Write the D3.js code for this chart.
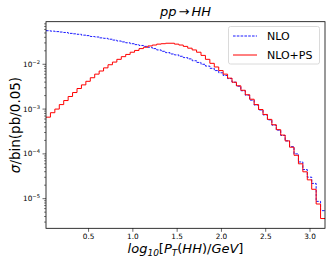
<!DOCTYPE html>
<html>
<head>
<meta charset="utf-8">
<script src="https://cdn.jsdelivr.net/npm/d3@7"></script>
<style>
  body { margin: 0; background: #fff; }
  svg { font-family: "DejaVu Sans", sans-serif; }
  .it { font-style: italic; }
</style>
</head>
<body>
<svg width="330" height="264"></svg>
<script>
// histogram bins: width 0.05 in log10(pT), first bin starts at 0.025
var binStart = 0.025,
  binWidth = 0.05;

// NLO (blue dashed), sigma per bin in pb
var nlo = [
  0.0562, 0.0550, 0.0537, 0.0525, 0.0513, 0.0490, 0.0479, 0.0468, 0.0447, 0.0437,
  0.0417, 0.0407, 0.0389, 0.0380, 0.0363, 0.0347, 0.0331, 0.0316, 0.0302, 0.0288,
  0.0275, 0.0263, 0.0251, 0.0240, 0.0224, 0.0209, 0.0195, 0.0182, 0.0170, 0.0162,
  0.0151, 0.0141, 0.0132, 0.0120, 0.0110, 0.0100, 9.12e-3, 8.13e-3, 7.24e-3, 6.46e-3,
  5.62e-3, 4.79e-3, 3.98e-3, 3.24e-3, 2.57e-3, 2.04e-3, 1.58e-3, 1.23e-3, 9.55e-4, 7.41e-4,
  5.75e-4, 4.37e-4, 3.39e-4, 2.57e-4, 1.95e-4, 1.45e-4, 1.0e-4, 6.6e-5, 4.47e-5, 3.02e-5,
  2.19e-5, 8.7e-6, 5.4e-6
];

// NLO+PS (red solid)
var nlops = [
  6.6e-4, 8.3e-4, 1.0e-3, 1.26e-3, 1.55e-3, 1.91e-3, 2.34e-3, 2.88e-3, 3.47e-3, 4.17e-3,
  5.01e-3, 6.03e-3, 7.08e-3, 8.32e-3, 9.77e-3, 0.0112, 0.0129, 0.0148, 0.0166, 0.0186,
  0.0204, 0.0224, 0.0240, 0.0257, 0.0269, 0.0282, 0.0288, 0.0295, 0.0295, 0.0282,
  0.0269, 0.0251, 0.0229, 0.0209, 0.0186, 0.0158, 0.0129, 0.0105, 8.71e-3, 7.24e-3,
  6.03e-3, 4.90e-3, 3.98e-3, 3.31e-3, 2.63e-3, 2.09e-3, 1.66e-3, 1.26e-3, 9.77e-4, 7.59e-4,
  5.89e-4, 4.47e-4, 3.47e-4, 2.63e-4, 1.95e-4, 1.41e-4, 9.3e-5, 6.0e-5, 3.98e-5, 2.63e-5,
  1.62e-5, 7.6e-6, 3.6e-6
];

var xTicks = [0.5, 1.0, 1.5, 2.0, 2.5, 3.0];
var yTicks = [1e-5, 1e-4, 1e-3, 1e-2];
var yExps = ["5", "4", "3", "2"];
var seriesNames = ["NLO", "NLO+PS"];

var svg = d3.select("svg"),
  pLeft = 46, pRight = 325, pTop = 21.7, pBottom = 228.3;

var x = d3.scaleLinear()
  .domain([binStart, binStart + nlo.length * binWidth])
  .range([pLeft, pRight]);

var y = d3.scaleLog()
  .domain([2.18e-6, 0.0893])
  .range([pBottom, pTop]);

svg.append("clipPath").attr("id", "clip")
  .append("rect")
  .attr("x", pLeft).attr("y", pTop)
  .attr("width", pRight - pLeft).attr("height", pBottom - pTop);

function stepPoints(vals) {
  var pts = vals.map(function(v, i) { return [binStart + i * binWidth, v]; });
  pts.push([binStart + vals.length * binWidth, vals[vals.length - 1]]);
  return pts;
}

var line = d3.line()
  .x(function(d) { return x(d[0]); })
  .y(function(d) { return y(d[1]); })
  .curve(d3.curveStepAfter);

var plot = svg.append("g").attr("clip-path", "url(#clip)");

plot.append("path")
  .attr("d", line(stepPoints(nlo)))
  .attr("fill", "none")
  .attr("stroke", "#0000ff")
  .attr("stroke-width", 0.9)
  .attr("stroke-dasharray", "2.6,1.2");

plot.append("path")
  .attr("d", line(stepPoints(nlops)))
  .attr("fill", "none")
  .attr("stroke", "#ff0000")
  .attr("stroke-width", 1);

// x axis
var xAxis = svg.append("g")
  .attr("transform", "translate(0," + pBottom + ")")
  .call(d3.axisBottom(x).tickValues(xTicks).tickFormat(d3.format(".1f")).tickSize(3.5).tickPadding(2));
xAxis.select(".domain").remove();
xAxis.selectAll("text").attr("font-size", 7.3).attr("font-family", "DejaVu Sans").attr("fill", "#000");
xAxis.selectAll("line").attr("stroke", "#000").attr("stroke-width", 0.6);

// y axis: major + minor log ticks
var minor = [];
for (var e = -6; e <= -2; e++) {
  for (var m = 2; m <= 9; m++) {
    var v = m * Math.pow(10, e);
    if (v > y.domain()[0] && v < y.domain()[1]) minor.push(v);
  }
}
var yAxis = svg.append("g").attr("transform", "translate(" + pLeft + ",0)");
yAxis.selectAll(".minor").data(minor).enter().append("line")
  .attr("x1", -2).attr("x2", 0)
  .attr("y1", function(d) { return y(d); })
  .attr("y2", function(d) { return y(d); })
  .attr("stroke", "#000").attr("stroke-width", 0.5);
yAxis.selectAll(".major").data(yTicks).enter().append("line")
  .attr("x1", -3.5).attr("x2", 0)
  .attr("y1", function(d) { return y(d); })
  .attr("y2", function(d) { return y(d); })
  .attr("stroke", "#000").attr("stroke-width", 0.6);
var ylab = yAxis.selectAll(".lab").data(yTicks).enter().append("text")
  .attr("x", -6)
  .attr("y", function(d) { return y(d) + 2.5; })
  .attr("text-anchor", "end")
  .attr("font-size", 7.3);
ylab.append("tspan").text("10");
ylab.append("tspan")
  .attr("dy", -3)
  .attr("font-size", 5.2)
  .text(function(d, i) { return "\u2212" + yExps[i]; });

// frame
svg.append("rect")
  .attr("x", pLeft).attr("y", pTop)
  .attr("width", pRight - pLeft).attr("height", pBottom - pTop)
  .attr("fill", "none")
  .attr("stroke", "#000")
  .attr("stroke-width", 0.8);

// title
var title = svg.append("text")
  .attr("x", (pLeft + pRight) / 2)
  .attr("y", 16)
  .attr("text-anchor", "middle")
  .attr("font-size", 13);
title.append("tspan").attr("class", "it").text("pp");
title.append("tspan").attr("dx", 2).text("\u2192");
title.append("tspan").attr("dx", 2).attr("class", "it").text("HH");

// y label
svg.append("text")
  .attr("transform", "translate(20," + ((pTop + pBottom) / 2) + ") rotate(-90)")
  .attr("text-anchor", "middle")
  .attr("font-size", 13.5)
  .html('<tspan class="it">\u03c3</tspan>/bin(pb/0.05)');

// x label
var xl = svg.append("text")
  .attr("x", (pLeft + pRight) / 2)
  .attr("y", 253)
  .attr("text-anchor", "middle")
  .attr("font-size", 13);
xl.append("tspan").attr("class", "it").text("log");
xl.append("tspan").attr("class", "it").attr("font-size", 9).attr("dy", 3).text("10");
xl.append("tspan").attr("dy", -3).text("[");
xl.append("tspan").attr("class", "it").text("P");
xl.append("tspan").attr("class", "it").attr("font-size", 9).attr("dy", 3).text("T");
xl.append("tspan").attr("dy", -3).text("(");
xl.append("tspan").attr("class", "it").text("HH");
xl.append("tspan").text(")/");
xl.append("tspan").attr("class", "it").text("GeV");
xl.append("tspan").text("]");

// legend
var lg = svg.append("g");
lg.append("rect")
  .attr("x", 228.5).attr("y", 26.5)
  .attr("width", 91).attr("height", 37.5)
  .attr("rx", 2)
  .attr("fill", "#fff").attr("fill-opacity", 0.8)
  .attr("stroke", "#d0d0d0").attr("stroke-width", 0.8);
var legRows = lg.selectAll(".row").data(seriesNames).enter().append("g")
  .attr("transform", function(d, i) { return "translate(233," + (36 + i * 19) + ")"; });
legRows.append("line")
  .attr("x1", 0).attr("x2", 24)
  .attr("stroke", function(d, i) { return i == 0 ? "#0000ff" : "#ff0000"; })
  .attr("stroke-width", function(d, i) { return i == 0 ? 0.9 : 1; })
  .attr("stroke-dasharray", function(d, i) { return i == 0 ? "2.6,1.2" : null; });
legRows.append("text")
  .attr("x", 34).attr("y", 4)
  .attr("font-size", 11)
  .text(function(d) { return d; });
</script>
</body>
</html>
